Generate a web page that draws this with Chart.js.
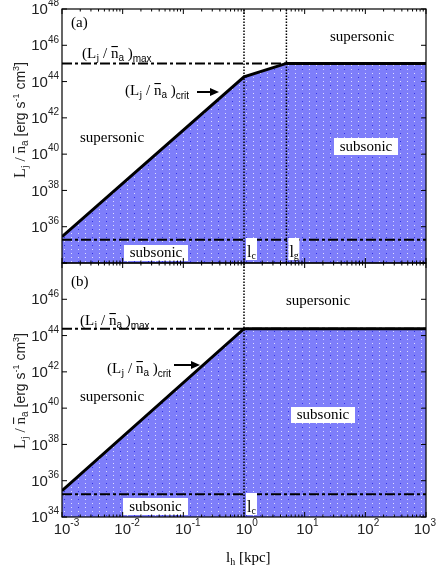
<!DOCTYPE html>
<html>
<head>
<meta charset="utf-8">
<script src="https://cdn.jsdelivr.net/npm/chart.js@4.4.1/dist/chart.umd.min.js"></script>
<style>
  html, body { margin: 0; padding: 0; background: #fff; }
  #wrap { position: relative; width: 436px; height: 569px; overflow: hidden; }
  canvas { position: absolute; left: 0; }
  #panelA { top: 0; }
  #panelB { top: 262px; }
</style>
</head>
<body>
<div id="wrap">
  <canvas id="panelA" width="436" height="264"></canvas>
  <canvas id="panelB" width="436" height="307"></canvas>
</div>
<script>
'use strict';

// l_h [kpc] break points and (L_j / n_a)_crit for each panel
var lhA = [0.001, 1, 5, 1000];
var critA = [2.8e35, 1.8e44, 1e45, 1e45];
var lhB = [0.001, 1, 1000];
var critB = [2.8e35, 2.4e44, 2.4e44];

// (L_j / n_a)_max and the lower dash-dot limit
var maxA = 1e45, lowA = 1.9e35;
var maxB = 2.4e44, lowB = 1.8e35;

// characteristic lengths l_c, l_g [kpc]
var lcA = 1, lgA = 5, lcB = 1;

// axis ranges and tick labels
var xRange = [1e-3, 1e3];
var yRange = [1e34, 1e48];
var xTicks = [1e-3, 1e-2, 1e-1, 1, 10, 100, 1000];
var xTickExp = ['-3', '-2', '-1', '0', '1', '2', '3'];
var yTicks = [1e34, 1e36, 1e38, 1e40, 1e42, 1e44, 1e46, 1e48];
var yTickExpA = ['', '36', '38', '40', '42', '44', '46', '48'];
var yTickExpB = ['34', '36', '38', '40', '42', '44', '46', ''];

var SERIF = '"Liberation Serif", "Times New Roman", serif';
var SANS = '"Liberation Sans", Arial, sans-serif';

function makePattern() {
  var c = document.createElement('canvas');
  c.width = 14; c.height = 8;
  var g = c.getContext('2d');
  g.fillStyle = 'rgb(126,126,250)';
  g.fillRect(0, 0, 14, 8);
  g.fillStyle = 'rgba(255,255,255,0.75)';
  g.fillRect(1, 1, 1, 1);
  g.fillRect(8, 1, 1, 1);
  g.fillRect(1, 5, 1, 1);
  g.fillStyle = 'rgba(40,40,230,0.9)';
  g.fillRect(8, 5, 1, 1);
  return g.createPattern(c, 'repeat');
}

function pts(xs, ys) {
  return xs.map(function (x, i) { return { x: x, y: ys[i] }; });
}

function drawRich(ctx, x, y, parts, align) {
  var ws = parts.map(function (p) { ctx.font = p[1]; return ctx.measureText(p[0]).width; });
  var total = ws.reduce(function (a, b) { return a + b; }, 0);
  var cx = align === 'center' ? x - total / 2 : align === 'right' ? x - total : x;
  ctx.textAlign = 'left';
  ctx.textBaseline = 'alphabetic';
  parts.forEach(function (p, i) {
    ctx.font = p[1];
    ctx.fillText(p[0], cx, y + (p[2] || 0));
    if (p[3]) ctx.fillRect(cx + 0.5, y - 12, ws[i] - 1, 1.1);
    cx += ws[i];
  });
  return total;
}

function ratioParts(sub) {
  return [
    ['(', '15px ' + SERIF], ['L', '15px ' + SERIF], ['j', '11px ' + SERIF, 3],
    [' / ', '15px ' + SERIF], ['n', '15px ' + SERIF, 0, true], ['a', '10px ' + SANS, 3],
    [' )', '15px ' + SERIF], [sub, '10px ' + SANS, 4]
  ];
}

function arrow(ctx, x1, x2, y) {
  ctx.strokeStyle = '#000';
  ctx.fillStyle = '#000';
  ctx.lineWidth = 2;
  ctx.beginPath(); ctx.moveTo(x1, y); ctx.lineTo(x2 - 7, y); ctx.stroke();
  ctx.beginPath(); ctx.moveTo(x2, y); ctx.lineTo(x2 - 9, y - 4); ctx.lineTo(x2 - 9, y + 4); ctx.closePath(); ctx.fill();
}

function boxText(ctx, x0, y0, w, h, text) {
  ctx.fillStyle = '#fff';
  ctx.fillRect(x0, y0, w, h);
  ctx.fillStyle = '#000';
  ctx.font = '15px ' + SERIF;
  ctx.textAlign = 'center';
  ctx.textBaseline = 'middle';
  ctx.fillText(text, x0 + w / 2, y0 + h / 2 + 0.5);
}

function lengthBox(ctx, px, y0, h, sub) {
  ctx.fillStyle = '#fff';
  ctx.fillRect(px + 2, y0, 11, h);
  ctx.fillStyle = '#000';
  drawRich(ctx, px + 3, y0 + h - 3, [['l', '16px ' + SERIF], [sub, '10px ' + SERIF, 2]], 'left');
}

function yTitle(ctx, cx, cy) {
  ctx.save();
  ctx.translate(cx, cy);
  ctx.rotate(-Math.PI / 2);
  ctx.fillStyle = '#222';
  drawRich(ctx, 0, 5, [
    ['L', '16px ' + SERIF], ['j', '11px ' + SERIF, 3], [' / ', '15px ' + SERIF],
    ['n', '15px ' + SERIF, 0, true], ['a', '10px ' + SANS, 3],
    [' [erg s', '14px ' + SANS], ['-1', '9px ' + SANS, -6], [' cm', '14px ' + SANS],
    ['3', '9px ' + SANS, -6], [']', '14px ' + SANS]
  ], 'center');
  ctx.restore();
}

function frame(chart, yExp) {
  var ctx = chart.ctx, a = chart.chartArea;
  var xs = chart.scales.x, ys = chart.scales.y;
  ctx.save();
  ctx.strokeStyle = '#000';
  ctx.lineWidth = 1.2;
  ctx.strokeRect(a.left, a.top, a.right - a.left, a.bottom - a.top);
  ctx.lineWidth = 1;
  ctx.beginPath();
  xTicks.forEach(function (v, i) {
    var px = xs.getPixelForValue(v);
    ctx.moveTo(px, a.bottom); ctx.lineTo(px, a.bottom - 5);
    ctx.moveTo(px, a.top); ctx.lineTo(px, a.top + 5);
    if (i < xTicks.length - 1) {
      for (var m = 2; m < 10; m++) {
        var mx = xs.getPixelForValue(v * m);
        ctx.moveTo(mx, a.bottom); ctx.lineTo(mx, a.bottom - 2.5);
        ctx.moveTo(mx, a.top); ctx.lineTo(mx, a.top + 2.5);
      }
    }
  });
  yTicks.forEach(function (v) {
    var py = ys.getPixelForValue(v);
    ctx.moveTo(a.left, py); ctx.lineTo(a.left + 5, py);
    ctx.moveTo(a.right, py); ctx.lineTo(a.right - 5, py);
  });
  ctx.stroke();

  // y tick labels 10^n
  ctx.fillStyle = '#222';
  yTicks.forEach(function (v, i) {
    if (!yExp[i]) return;
    var py = ys.getPixelForValue(v);
    ctx.font = '10px ' + SANS;
    var we = ctx.measureText(yExp[i]).width;
    ctx.textAlign = 'right';
    ctx.textBaseline = 'middle';
    ctx.fillText(yExp[i], a.left - 3, py - 5.5);
    ctx.font = '15px ' + SANS;
    ctx.fillText('10', a.left - 3 - we, py + 1);
  });
  ctx.restore();
}

function baseOptions(padding) {
  return {
    responsive: false,
    animation: false,
    devicePixelRatio: 1,
    layout: { padding: padding },
    elements: { point: { radius: 0 }, line: { tension: 0 } },
    plugins: { legend: { display: false }, tooltip: { enabled: false }, filler: { drawTime: 'beforeDatasetsDraw' } },
    scales: {
      x: { type: 'logarithmic', min: xRange[0], max: xRange[1], display: false },
      y: { type: 'logarithmic', min: yRange[0], max: yRange[1], display: false }
    }
  };
}

function datasets(lh, crit, maxV, lowV, verticals, pattern) {
  var ds = [
    { data: pts(lh, crit), borderColor: '#000', borderWidth: 3, fill: 'start', backgroundColor: pattern },
    { data: pts(xRange, [maxV, maxV]), borderColor: '#000', borderWidth: 2, borderDash: [10, 3, 3, 3], fill: false },
    { data: pts(xRange, [lowV, lowV]), borderColor: '#000', borderWidth: 2, borderDash: [10, 3, 3, 3], fill: false }
  ];
  verticals.forEach(function (v) {
    ds.push({ data: pts([v, v], yRange), borderColor: '#000', borderWidth: 1.5, borderDash: [1.5, 1.5], fill: false });
  });
  return ds;
}

function init() {
  if (typeof window.Chart !== 'function') return;
  var ctxA = document.getElementById('panelA').getContext('2d');
  var ctxB = document.getElementById('panelB').getContext('2d');
  var pattern = makePattern();

  new Chart(ctxA, {
    type: 'line',
    data: { datasets: datasets(lhA, critA, maxA, lowA, [lcA, lgA], pattern) },
    options: baseOptions({ left: 62, right: 10, top: 9, bottom: 1 }),
    plugins: [{
      id: 'panelADecor',
      afterDraw: function (chart) {
        var ctx = chart.ctx, xs = chart.scales.x;
        ctx.save();
        boxText(ctx, 334, 138, 64, 17, 'subsonic');
        boxText(ctx, 124, 245, 64, 16, 'subsonic');
        lengthBox(ctx, xs.getPixelForValue(lcA), 238, 22, 'c');
        lengthBox(ctx, xs.getPixelForValue(lgA), 238, 22, 'g');
        ctx.fillStyle = '#000';
        ctx.font = '15px ' + SERIF;
        ctx.textAlign = 'left';
        ctx.textBaseline = 'middle';
        ctx.fillText('(a)', 71, 23);
        ctx.fillText('supersonic', 80, 138);
        ctx.fillText('supersonic', 330, 37);
        drawRich(ctx, 82, 58, ratioParts('max'), 'left');
        drawRich(ctx, 125, 95, ratioParts('crit'), 'left');
        arrow(ctx, 197, 219, 92);
        ctx.restore();
        frame(chart, yTickExpA);
        yTitle(ctx, 20, 120);
      }
    }]
  });

  new Chart(ctxB, {
    type: 'line',
    data: { datasets: datasets(lhB, critB, maxB, lowB, [lcB], pattern) },
    options: baseOptions({ left: 62, right: 10, top: 1, bottom: 52 }),
    plugins: [{
      id: 'panelBDecor',
      afterDraw: function (chart) {
        var ctx = chart.ctx, xs = chart.scales.x, a = chart.chartArea;
        ctx.save();
        boxText(ctx, 291, 145, 64, 16, 'subsonic');
        boxText(ctx, 123, 236, 65, 17, 'subsonic');
        lengthBox(ctx, xs.getPixelForValue(lcB), 231, 22, 'c');
        ctx.fillStyle = '#000';
        ctx.font = '15px ' + SERIF;
        ctx.textAlign = 'left';
        ctx.textBaseline = 'middle';
        ctx.fillText('(b)', 71, 20);
        ctx.fillText('supersonic', 80, 135);
        ctx.fillText('supersonic', 286, 39);
        drawRich(ctx, 80, 63, ratioParts('max'), 'left');
        drawRich(ctx, 107, 111, ratioParts('crit'), 'left');
        arrow(ctx, 174, 200, 103);

        // x tick labels 10^n
        ctx.fillStyle = '#222';
        xTicks.forEach(function (v, i) {
          var px = xs.getPixelForValue(v);
          ctx.font = '15px ' + SANS;
          var wb = ctx.measureText('10').width;
          ctx.font = '10px ' + SANS;
          var we = ctx.measureText(xTickExp[i]).width;
          var left = px - wb / 2;
          if (left + wb + we > chart.width) left = chart.width - wb - we;
          ctx.textAlign = 'left';
          ctx.textBaseline = 'middle';
          ctx.font = '15px ' + SANS;
          ctx.fillText('10', left, a.bottom + 13);
          ctx.font = '10px ' + SANS;
          ctx.fillText(xTickExp[i], left + wb, a.bottom + 6);
        });
        ctx.fillStyle = '#000';
        drawRich(ctx, 226, 300, [['l', '15px ' + SERIF], ['h', '10px ' + SERIF, 3], [' [kpc]', '15px ' + SERIF]], 'left');
        ctx.restore();
        frame(chart, yTickExpB);
        yTitle(ctx, 20, 129);
      }
    }]
  });
}

if (document.readyState === 'complete') {
  init();
} else {
  window.addEventListener('load', init);
}
</script>
</body>
</html>
